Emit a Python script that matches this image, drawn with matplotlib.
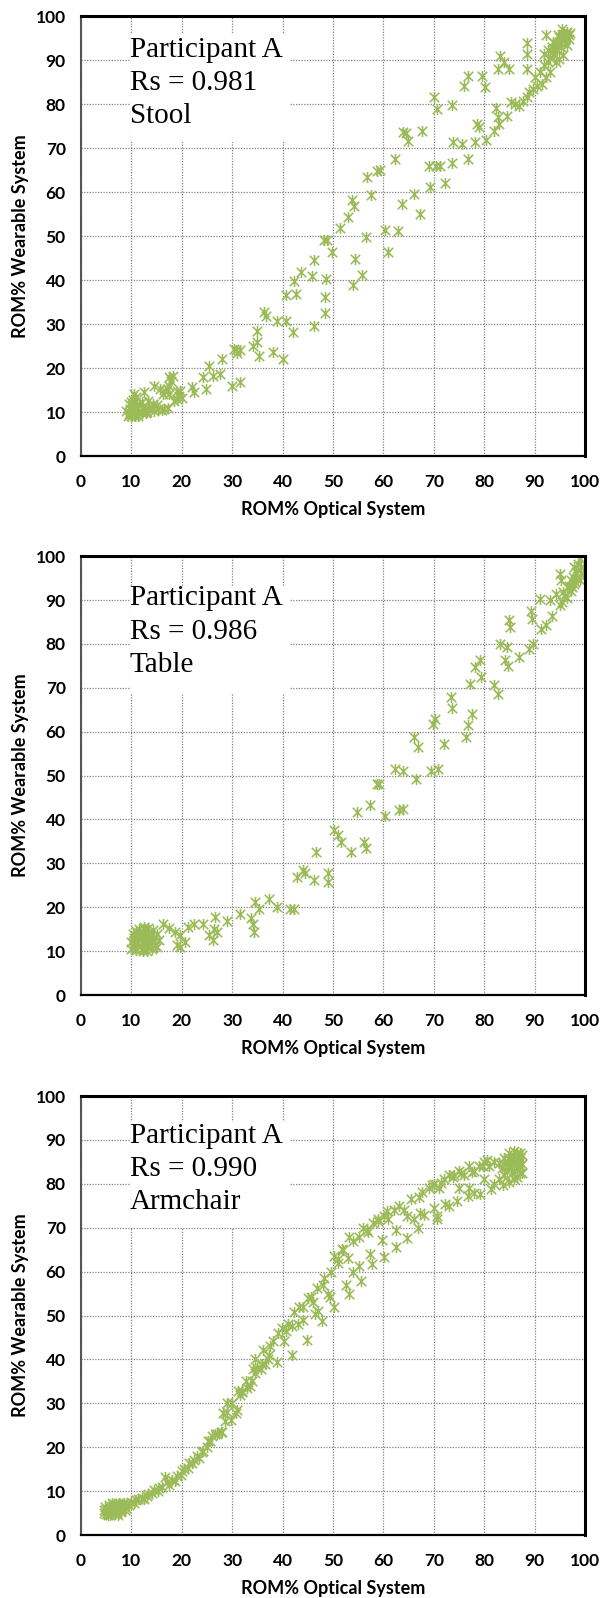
import numpy as np
import matplotlib.pyplot as plt
from matplotlib.path import Path
from matplotlib.patches import Rectangle

# --- data (ROM% optical, ROM% wearable) ---
stool_x = [9.0, 9.5, 9.8, 10.0, 10.2, 10.5, 10.8, 11.0, 11.2, 11.5, 11.8, 12.0, 12.3, 12.6, 13.0,
           10.4, 11.0, 9.6, 10.7, 12.0, 13.5, 14.0, 14.5, 15.2, 16.0, 16.5, 17.2, 14.2, 13.2,
           9.3, 10.1, 11.4, 12.8, 10.9, 9.9,
           10.6, 12.5, 14.4, 15.6, 16.7, 17.5, 17.5, 17.8, 17.5, 17.1, 18.2, 16.2, 19.0, 19.4,
           19.0, 19.7, 18.5, 20.0, 15.0,
           22.0, 22.4, 24.3, 24.7, 25.4, 26.2, 27.9, 27.6,
           30.0, 31.5, 30.8, 31.5, 30.4, 31.0,
           34.9, 34.2, 34.9, 35.3, 36.4, 36.8, 38.1, 38.9, 40.6, 40.0, 42.1,
           40.6, 42.7, 42.3, 43.6, 45.9, 46.3, 48.6, 48.4, 48.4, 46.3,
           48.2, 48.8, 49.7, 51.3, 53.0, 53.8, 54.1, 54.3, 53.9, 55.8,
           56.6, 56.8, 57.5, 58.8, 59.4, 60.4, 60.9, 62.3, 62.9, 63.6, 63.8, 64.5, 64.8, 66.1,
           67.2, 67.6,
           69.1, 69.3, 70.1, 70.6, 70.4, 71.2, 72.3, 73.6, 73.6, 73.8, 75.5, 75.9, 76.8, 76.8,
           78.2, 78.6, 79.0, 79.6, 80.1, 80.3,
           82.0, 82.4, 82.8, 83.0, 82.8, 83.1, 83.9, 85.0, 84.6, 85.4, 86.2, 86.9, 87.7, 88.5,
           88.8, 88.5, 88.5, 88.5, 89.6, 90.0, 90.4, 91.1, 91.5, 91.9, 92.3, 92.6, 93.0,
           91.9, 92.6, 93.4, 93.8, 94.2, 94.5, 94.9, 95.3, 95.7, 96.1, 96.4, 96.8, 95.7, 94.9,
           92.3, 93.4, 94.2, 95.0, 96.0, 97.0, 94.0, 93.0, 95.5, 96.5, 95.2, 96.8, 94.6, 93.6]
stool_y = [10.2, 9.5, 10.8, 9.2, 11.5, 10.0, 12.2, 9.6, 10.8, 11.8, 10.2, 9.8, 11.0, 10.4, 10.0,
           12.8, 13.5, 11.8, 9.0, 12.3, 10.6, 10.9, 10.3, 10.7, 10.5, 10.8, 11.0, 11.8, 12.6,
           9.0, 10.4, 9.2, 9.7, 11.0, 12.4,
           14.1, 14.5, 16.0, 15.2, 14.9, 14.1, 17.9, 17.1, 16.0, 15.2, 18.3, 14.0, 14.9, 13.7,
           13.0, 14.9, 12.5, 13.2, 11.6,
           15.6, 14.5, 17.9, 15.2, 20.5, 18.3, 22.1, 18.7,
           16.0, 16.8, 24.0, 24.0, 24.3, 23.5,
           28.5, 25.1, 25.9, 22.8, 32.7, 31.9, 23.6, 30.8, 30.8, 22.1, 28.1,
           36.5, 36.8, 39.9, 41.8, 41.0, 44.6, 40.3, 36.2, 32.5, 29.6,
           49.1, 49.1, 46.5, 51.8, 54.4, 58.1, 56.9, 44.8, 38.9, 41.2,
           49.9, 63.4, 59.4, 64.9, 65.0, 51.4, 46.5, 67.6, 51.1, 57.2, 73.6, 73.4, 71.7, 59.6,
           55.0, 74.0,
           65.9, 61.1, 81.6, 78.9, 66.0, 66.0, 62.0, 79.9, 66.6, 71.3, 71.0, 84.2, 86.5, 67.6,
           71.3, 75.5, 74.8, 86.5, 84.0, 71.9,
           74.0, 79.2, 77.0, 75.5, 88.0, 91.0, 89.5, 88.0, 77.4, 80.4, 80.0, 79.5, 80.8, 81.6,
           82.7, 94.0, 91.4, 88.0, 83.5, 86.1, 84.2, 87.3, 84.6, 88.8, 86.1, 89.5, 87.3,
           91.4, 92.2, 93.0, 91.1, 93.7, 92.2, 95.2, 93.0, 96.0, 94.5, 96.4, 95.6, 91.1, 90.3,
           95.6, 91.8, 89.5, 94.0, 95.0, 96.2, 92.5, 90.5, 97.0, 93.5, 93.8, 94.8, 95.8, 94.2]

table_x = [10.0, 10.5, 11.0, 11.5, 12.0, 12.5, 13.0, 11.0, 12.0, 13.0, 14.0, 14.5, 15.0, 15.0,
           11.0, 12.0, 13.0, 10.5, 11.5, 14.0, 13.5, 12.5, 10.0, 10.8, 11.8, 12.8, 13.2, 14.2,
           10.3, 11.3, 12.2, 13.8, 15.5, 12.6, 10.6, 11.6, 12.4, 13.4, 14.6, 11.9, 10.9,
           16.3, 17.5, 18.6, 19.7, 19.0, 19.7, 20.7, 21.3, 22.4, 24.3, 25.4, 26.2, 26.6, 27.0,
           26.3, 28.9, 31.5, 33.8, 34.2, 34.6, 34.3, 35.3, 37.2, 38.9, 41.4, 42.2,
           42.9, 44.0, 44.4, 46.3, 46.7, 49.0, 49.0, 50.2, 50.9, 51.5, 53.6, 54.7, 56.2, 56.6,
           57.3, 58.8, 59.2, 60.4, 62.3, 63.0, 63.8, 63.9, 66.0, 66.4, 66.8,
           69.5, 69.9, 70.2, 70.8, 72.1, 73.4, 73.6, 76.3, 76.7, 77.2, 77.6, 78.2, 79.1, 79.3,
           82.0, 82.7, 83.1, 84.2, 84.6, 84.8, 85.0, 85.1, 86.9, 88.8, 89.2, 89.4, 89.6, 91.1,
           91.3, 92.3, 93.0, 93.4, 94.2, 95.0, 95.1, 95.3, 95.7, 96.5, 96.8, 97.2, 97.6, 97.9,
           98.3, 98.7, 99.1, 99.3, 99.5, 99.1, 97.9, 97.2, 96.1, 98.5, 99.0, 97.5, 98.0, 96.5,
           95.5]
table_y = [10.5, 11.0, 12.0, 13.0, 14.0, 15.0, 14.0, 14.5, 12.0, 11.0, 12.0, 13.0, 11.0, 14.0,
           10.5, 10.5, 10.0, 13.0, 15.0, 10.5, 12.5, 13.5, 12.0, 11.8, 11.2, 12.8, 15.2, 14.8,
           14.0, 13.6, 10.0, 13.6, 12.5, 11.6, 12.6, 14.2, 15.4, 11.8, 11.4, 13.2, 10.2,
           16.3, 15.2, 14.4, 13.7, 11.4, 11.0, 12.1, 15.6, 16.3, 16.3, 13.7, 12.5, 17.8, 14.4,
           15.0, 16.9, 18.4, 17.5, 16.3, 21.2, 14.4, 19.7, 21.8, 20.1, 19.7, 19.7,
           26.9, 28.5, 27.7, 26.3, 32.6, 27.7, 25.8, 37.7, 36.4, 34.9, 32.6, 41.7, 34.9, 33.4,
           43.2, 48.0, 48.0, 40.7, 51.4, 42.1, 42.5, 51.1, 58.8, 49.3, 56.5,
           51.1, 61.8, 63.0, 51.6, 57.3, 67.9, 65.3, 58.8, 61.5, 70.9, 64.1, 74.7, 76.3, 72.5,
           70.6, 68.7, 80.0, 76.3, 79.3, 74.9, 85.4, 83.8, 77.0, 78.9, 87.6, 85.7, 80.0, 90.3,
           83.5, 84.2, 89.9, 86.3, 91.4, 88.8, 96.0, 94.5, 91.8, 92.9, 93.3, 94.5, 95.2, 97.5,
           96.4, 98.3, 99.4, 97.5, 96.0, 94.5, 93.7, 92.1, 91.0, 95.0, 96.8, 93.0, 94.0, 90.5,
           89.5]

armchair_x = [4.5, 5.0, 5.0, 5.5, 5.5, 6.0, 6.0, 6.5, 6.5, 7.0, 7.0, 7.5, 7.5, 8.0, 8.0, 8.5,
              8.5, 9.0, 4.8, 5.8, 6.8, 7.8, 5.2, 6.3, 7.2, 9.2, 9.5, 8.8, 4.6, 5.4, 6.2, 7.4,
              8.2, 6.9, 5.9, 7.9,
              10.0, 10.5, 11.0, 11.4, 12.0, 12.5, 13.0, 13.3, 14.0, 14.5, 15.2, 15.5, 16.0, 16.7,
              17.0, 17.5, 18.0, 18.6, 19.0, 19.8, 20.0, 20.5, 21.3, 21.5, 22.0, 22.5, 23.0, 23.5,
              24.0, 24.3, 25.0, 25.1, 25.5, 26.0, 26.6, 27.0, 27.8, 28.0, 28.1, 28.5, 28.9, 29.0,
              29.7, 30.0, 30.8, 31.0, 31.2, 31.5, 31.9, 32.0, 32.7, 33.0, 33.5, 34.0, 34.2, 34.5,
              34.6, 35.0, 35.7, 36.0, 36.1, 36.5, 37.0, 37.3, 37.5, 38.0, 38.8, 39.0, 39.9, 40.3,
              40.7, 41.0, 41.8, 41.8, 42.2, 43.0, 43.3, 44.0, 44.0, 44.9, 45.0, 45.6, 46.0, 46.4,
              46.8, 47.0, 47.9, 48.0, 48.3, 49.0, 49.4, 49.5, 50.2, 50.2, 50.9, 51.0, 51.7, 52.0,
              52.5, 53.0, 53.2, 53.2, 54.0, 54.0, 55.1, 55.1, 55.5, 56.0, 56.7, 57.0, 57.4, 57.8,
              58.0, 58.9, 59.0, 59.7, 60.1, 60.1, 60.8, 61.0, 62.0, 62.4, 62.4, 63.1, 64.0, 64.6,
              64.6, 65.4, 66.0, 66.9, 67.0, 67.3, 67.7, 68.0, 69.0, 69.6, 70.0, 70.0, 70.7, 70.7,
              71.0, 71.5, 72.0, 72.2, 73.0, 73.0, 73.8, 74.5, 74.0, 75.0, 75.0, 75.3, 76.0, 76.8,
              77.0, 77.0, 77.6, 78.0, 78.0, 79.0, 79.1, 79.8, 80.0, 80.0, 80.6, 81.0, 81.4, 82.0,
              82.0, 82.9, 83.0, 83.7, 84.0, 84.0, 85.0, 85.0, 85.0, 85.2, 86.0, 86.0, 86.0, 86.7,
              87.0, 87.0, 87.1, 86.5, 85.5, 84.5, 87.0, 86.0, 85.5, 84.5, 86.5, 83.5,
              84.5, 85.5, 86.5, 87.5, 87.5, 87.5, 86.5, 85.0, 84.0, 86.0, 87.0]
armchair_y = [5.0, 6.0, 4.8, 5.5, 6.8, 5.0, 6.2, 5.6, 7.0, 5.2, 6.4, 5.8, 7.2, 6.0, 5.2, 6.6,
              7.4, 6.2, 6.5, 4.6, 4.8, 6.8, 5.8, 6.6, 5.8, 7.0, 6.8, 5.6, 5.8, 4.6, 7.2, 4.6,
              7.0, 6.0, 5.4, 5.4,
              7.5, 7.2, 8.0, 8.1, 8.5, 8.2, 9.0, 9.3, 9.5, 10.2, 10.1, 10.8, 11.0, 13.2,
              12.0, 11.5, 12.5, 12.4, 13.5, 13.6, 14.5, 15.0, 15.2, 16.5, 16.5, 17.1, 18.0, 17.5,
              19.0, 19.1, 20.0, 21.4, 21.5, 22.5, 23.0, 23.0, 23.4, 23.5, 27.7, 26.0, 30.0, 28.0,
              26.1, 30.0, 27.7, 28.5, 32.8, 32.0, 32.8, 32.5, 35.1, 33.5, 33.9, 35.0, 37.8, 37.0,
              40.2, 38.0, 37.8, 39.0, 42.1, 39.0, 40.0, 41.0, 43.0, 44.1, 39.4, 46.0, 47.2, 44.1,
              46.4, 48.0, 41.0, 47.6, 50.7, 48.0, 51.9, 52.0, 49.0, 44.5, 54.0, 54.3, 53.0, 50.4,
              56.2, 51.0, 48.8, 57.0, 58.6, 55.0, 54.3, 60.0, 63.6, 51.9, 62.9, 62.0, 65.2, 65.0,
              57.0, 63.0, 67.9, 55.0, 67.0, 60.0, 67.9, 61.3, 57.8, 70.0, 69.5, 69.0, 64.0, 61.7,
              71.0, 71.5, 72.0, 67.2, 72.6, 63.3, 73.8, 72.0, 74.0, 69.5, 65.6, 75.0, 74.0, 72.6,
              67.6, 76.5, 72.0, 69.9, 77.0, 73.4, 78.1, 73.0, 79.0, 79.7, 74.6, 80.0, 72.6, 71.9,
              79.0, 80.1, 81.0, 75.4, 82.0, 75.0, 81.6, 76.2, 82.0, 83.0, 79.0, 82.4, 82.0, 77.3,
              84.0, 79.0, 82.8, 83.0, 78.0, 84.0, 77.7, 84.0, 85.0, 81.0, 85.5, 84.0, 78.9, 85.0,
              80.0, 84.8, 81.0, 79.7, 86.0, 82.0, 87.0, 84.0, 80.5, 85.5, 86.3, 81.2, 83.0, 84.8,
              86.0, 84.0, 82.4, 87.0, 86.0, 85.0, 87.0, 85.0, 82.5, 83.0, 81.5, 83.5,
              84.0, 84.5, 85.5, 86.5, 84.5, 82.5, 83.5, 86.0, 84.5, 87.5, 85.0]

panel_labels = [["Participant A", "Rs = 0.981", "Stool"],
                ["Participant A", "Rs = 0.986", "Table"],
                ["Participant A", "Rs = 0.990", "Armchair"]]
ticks = list(range(0, 101, 10))

green = '#9bbb59'
star = Path([(-0.85, -0.85), (0.85, 0.85), (-0.85, 0.85), (0.85, -0.85), (0, -1), (0, 1)],
            [Path.MOVETO, Path.LINETO, Path.MOVETO, Path.LINETO, Path.MOVETO, Path.LINETO])

tick_font = dict(family='Lato', weight='bold', size=12.5)
label_font = dict(family='Lato', weight='bold', size=13)


def draw_panel(ax, x, y, lines, first_baseline, box_y):
    ax.set_xlim(0, 100)
    ax.set_ylim(0, 100)
    ax.set_xticks(ticks)
    ax.set_yticks(ticks)
    ax.set_axisbelow(True)
    ax.grid(True, color='#808080', linestyle=(0, (1, 1.2)), linewidth=0.9)
    ax.tick_params(axis='x', length=0, pad=13)
    ax.tick_params(axis='y', length=0, pad=11)
    for lab in ax.get_xticklabels() + ax.get_yticklabels():
        lab.set_fontproperties(tick_font)
    for side in ['top', 'right']:
        ax.spines[side].set_linewidth(2.2)
        ax.spines[side].set_color('black')
    ax.spines['bottom'].set_linewidth(1.6)
    ax.spines['left'].set_linewidth(1.5)
    ax.spines['left'].set_color('#555555')

    # white box behind the annotation hides the grid
    ax.add_patch(Rectangle((10, box_y[0]), 31.5, box_y[1] - box_y[0],
                           facecolor='white', edgecolor='none', zorder=1.5))
    for i, line in enumerate(lines):
        ax.text(9.7, first_baseline - i * 7.6, line, family='Liberation Serif',
                fontsize=21, va='baseline', ha='left', zorder=3)

    ax.plot(x, y, linestyle='none', marker=star, markersize=8, mec=green,
            mew=1.15, mfc='none', zorder=2)

    ax.set_xlabel('ROM% Optical System', fontdict=label_font, labelpad=8)
    ax.set_ylabel('ROM% Wearable System', fontdict=label_font, labelpad=5)


fig = plt.figure(figsize=(6.02, 15.98), dpi=100)
ax1 = fig.add_axes([0.1346, 0.7146, 0.8372, 0.2753])
ax2 = fig.add_axes([0.1346, 0.3773, 0.8372, 0.2747])
ax3 = fig.add_axes([0.1346, 0.0394, 0.8372, 0.2747])

draw_panel(ax1, stool_x, stool_y, panel_labels[0], 90.8, (71.4, 96.1))
draw_panel(ax2, table_x, table_y, panel_labels[1], 88.8, (68.7, 93.3))
draw_panel(ax3, armchair_x, armchair_y, panel_labels[2], 89.4, (69.9, 94.1))

fig.savefig('out.png', dpi=100)
